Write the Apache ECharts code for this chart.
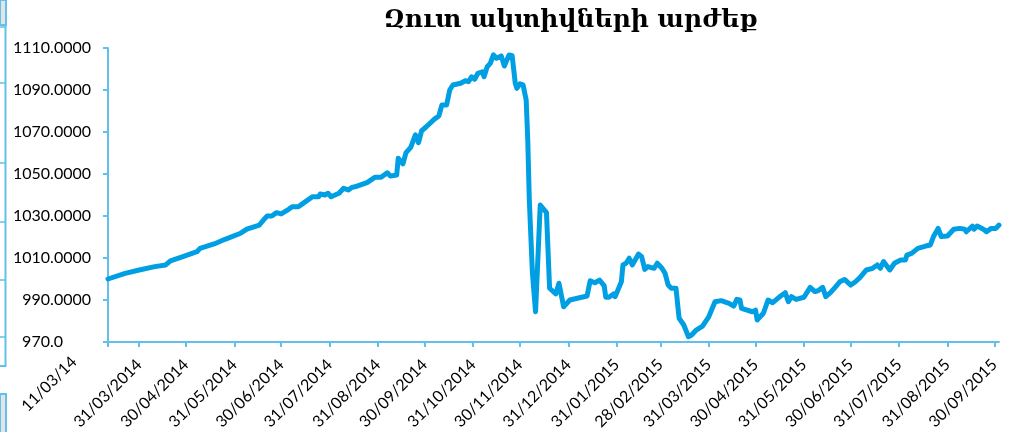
<!DOCTYPE html>
<html>
<head>
<meta charset="utf-8">
<script src="https://cdn.jsdelivr.net/npm/echarts@6/dist/echarts.min.js"></script>
<style>
  html, body { margin: 0; padding: 0; background: #fff; }
  #main { width: 1010px; height: 432px; }
</style>
</head>
<body>
<div id="main"></div>
<script>
// data
const titleText = 'Զուտ ակտիվների արժեք';
const startDate = '11/03/2014';
const endDate = '03/10/2015';
const yTicks = [970, 990, 1010, 1030, 1050, 1070, 1090, 1110];

const dates = [
	'11/03/2014','22/03/2014','31/03/2014','10/04/2014','17/04/2014','20/04/2014','28/04/2014',
	'07/05/2014','09/05/2014','18/05/2014','25/05/2014',
	'04/06/2014','08/06/2014','16/06/2014','19/06/2014','21/06/2014','24/06/2014','27/06/2014','30/06/2014',
	'05/07/2014','07/07/2014','11/07/2014','14/07/2014','20/07/2014','24/07/2014','25/07/2014','28/07/2014','30/07/2014',
	'01/08/2014','06/08/2014','09/08/2014','12/08/2014','14/08/2014','18/08/2014','24/08/2014','29/08/2014',
	'02/09/2014','06/09/2014','08/09/2014','12/09/2014','13/09/2014','16/09/2014','18/09/2014','21/09/2014','24/09/2014','26/09/2014','28/09/2014',
	'01/10/2014','06/10/2014','09/10/2014','11/10/2014','14/10/2014','16/10/2014','18/10/2014','23/10/2014','26/10/2014','28/10/2014','30/10/2014',
	'01/11/2014','03/11/2014','06/11/2014','07/11/2014','09/11/2014','11/11/2014','13/11/2014','15/11/2014','18/11/2014','20/11/2014','23/11/2014','25/11/2014','27/11/2014','28/11/2014','30/11/2014',
	'02/12/2014','04/12/2014','05/12/2014','06/12/2014','08/12/2014','10/12/2014','13/12/2014','17/12/2014','19/12/2014','23/12/2014','25/12/2014','28/12/2014',
	'01/01/2015','12/01/2015','14/01/2015','17/01/2015','20/01/2015','23/01/2015','24/01/2015','26/01/2015','29/01/2015','30/01/2015',
	'03/02/2015','04/02/2015','06/02/2015','08/02/2015','10/02/2015','14/02/2015','16/02/2015','18/02/2015','20/02/2015','24/02/2015','26/02/2015',
	'01/03/2015','03/03/2015','05/03/2015','07/03/2015','10/03/2015','12/03/2015','15/03/2015','18/03/2015','20/03/2015','23/03/2015','27/03/2015','31/03/2015',
	'04/04/2015','08/04/2015','13/04/2015','16/04/2015','18/04/2015','20/04/2015','21/04/2015','28/04/2015','30/04/2015',
	'01/05/2015','05/05/2015','08/05/2015','11/05/2015','15/05/2015','19/05/2015','21/05/2015','23/05/2015','26/05/2015','31/05/2015',
	'04/06/2015','07/06/2015','09/06/2015','12/06/2015','14/06/2015','17/06/2015','20/06/2015','23/06/2015','26/06/2015','30/06/2015',
	'03/07/2015','06/07/2015','10/07/2015','14/07/2015','17/07/2015','19/07/2015','21/07/2015','25/07/2015','28/07/2015',
	'01/08/2015','04/08/2015','05/08/2015','08/08/2015','12/08/2015','17/08/2015','20/08/2015','22/08/2015','25/08/2015','27/08/2015','31/08/2015',
	'04/09/2015','08/09/2015','11/09/2015','12/09/2015','16/09/2015','17/09/2015','19/09/2015','23/09/2015','25/09/2015','28/09/2015',
	'01/10/2015','03/10/2015'
];

const values = [
	1000.0,1002.7,1004.3,1005.9,1006.7,1008.6,1010.6,
	1013.0,1014.6,1016.7,1018.9,
	1021.8,1023.7,1025.7,1028.4,1030.0,1030.0,1031.6,1031.0,
	1033.3,1034.4,1034.4,1036.0,1039.2,1039.2,1040.5,1040.0,1040.8,
	1039.2,1040.8,1043.2,1042.4,1043.5,1044.3,1045.9,1048.4,
	1048.4,1050.6,1049.0,1049.5,1057.5,1054.8,1060.2,1062.7,1068.6,1064.9,1070.6,
	1072.5,1076.0,1077.6,1082.9,1082.9,1090.0,1092.4,1093.2,1094.4,1094.0,1096.3,
	1095.1,1097.9,1098.7,1096.3,1101.1,1102.7,1106.7,1105.1,1106.2,1101.4,1106.7,1106.3,1093.2,1090.8,1092.9,
	1092.4,1085.2,1066.2,1037.6,1002.7,984.4,1035.2,1031.6,995.6,992.9,998.0,986.8,
	990.0,991.9,999.2,998.2,999.5,996.7,991.3,991.3,992.9,991.6,
	998.7,1006.7,1007.5,1009.9,1006.7,1011.9,1010.6,1004.6,1005.9,1005.1,1007.5,
	1005.1,1002.7,997.1,995.6,995.6,981.3,978.1,972.5,973.3,975.7,977.6,982.0,
	989.2,989.7,988.4,987.1,990.3,990.0,986.0,984.4,985.2,
	980.5,983.7,990.0,988.7,991.3,993.5,989.2,991.6,990.3,991.3,
	996.0,994.0,994.4,996.0,991.6,993.5,996.0,998.7,999.8,997.1,
	998.7,1000.8,1004.3,1005.1,1006.7,1005.1,1008.3,1004.3,1007.5,
	1009.0,1009.0,1011.4,1012.2,1014.6,1015.7,1016.2,1020.2,1024.1,1020.2,1020.5,
	1023.7,1024.1,1023.7,1022.5,1025.2,1023.7,1025.2,1023.7,1022.5,1024.1,
	1024.1,1025.7
];

// daily category list between the two dates
function parseDMY(s) {
	let p = s.split('/');
	return Date.UTC(+p[2], +p[1] - 1, +p[0]);
}
function fmtDMY(t) {
	let d = new Date(t);
	let dd = String(d.getUTCDate()).padStart(2, '0');
	let mm = String(d.getUTCMonth() + 1).padStart(2, '0');
	return dd + '/' + mm + '/' + d.getUTCFullYear();
}
const DAY = 86400000;
let days = [];
for (let t = parseDMY(startDate); t <= parseDMY(endDate); t += DAY) {
	days.push(fmtDMY(t));
}
function isMonthEnd(label) {
	let t = parseDMY(label);
	return new Date(t).getUTCMonth() !== new Date(t + DAY).getUTCMonth();
}
function showTick(idx, label) {
	return idx === 0 || isMonthEnd(label);
}

const axisBlue = '#62C1EA';
const lineBlue = '#009FE3';

let myChart = echarts.init(document.getElementById('main'));

const option = {
	backgroundColor: '#fff',
	animation: false,
	title: {
		text: titleText,
		left: 379,
		top: 3,
		textStyle: {
			fontFamily: 'DejaVu Serif',
			fontSize: 25,
			fontWeight: 'bold',
			color: '#000'
		}
	},
	grid: {
		left: 108,
		right: 11,
		top: 48,
		bottom: 90,
		containLabel: false,
		outerBoundsMode: 'none'
	},
	xAxis: {
		type: 'category',
		data: days,
		boundaryGap: false,
		axisLine: { lineStyle: { color: axisBlue, width: 2 } },
		axisTick: {
			interval: showTick,
			length: 5,
			lineStyle: { color: axisBlue, width: 2 }
		},
		axisLabel: {
			interval: showTick,
			rotate: 45,
			margin: 20,
			fontFamily: 'Lato',
			fontSize: 16,
			color: '#000',
			formatter: function (val, idx) {
				if (idx === 0) return '{first|11/03/14}';
				return val;
			},
			rich: {
				first: {
					fontFamily: 'Lato',
					fontSize: 16,
					color: '#000',
					padding: [0, 22, 52, 0]
				}
			}
		},
		splitLine: { show: false }
	},
	yAxis: {
		type: 'value',
		min: 970,
		max: 1110,
		interval: 20,
		axisLine: { show: true, lineStyle: { color: axisBlue, width: 2 } },
		axisTick: { show: true, length: 5, lineStyle: { color: axisBlue, width: 2 } },
		axisLabel: {
			margin: 17,
			fontFamily: 'Lato',
			fontSize: 16,
			color: '#000',
			formatter: function (v) {
				if (v === yTicks[0]) return '{cut|970.0}';
				return v.toFixed(4);
			},
			rich: {
				cut: {
					fontFamily: 'Lato',
					fontSize: 16,
					color: '#000',
					padding: [0, 28, 0, 0]
				}
			}
		},
		splitLine: { show: false }
	},
	series: [
		{
			type: 'line',
			data: dates.map(function (d, i) { return [d, values[i]]; }),
			showSymbol: false,
			smooth: false,
			lineStyle: {
				color: lineBlue,
				width: 5,
				cap: 'round',
				join: 'round'
			}
		}
	],
	// bits of the spreadsheet frame visible on the left edge
	graphic: [
		{ type: 'rect', shape: { x: 0, y: 0, width: 6, height: 25 }, style: { fill: '#e4e4e4', stroke: axisBlue, lineWidth: 2 } },
		{ type: 'line', shape: { x1: 5.5, y1: 26, x2: 5.5, y2: 367 }, style: { stroke: axisBlue, lineWidth: 2 } },
		{ type: 'line', shape: { x1: 0, y1: 27, x2: 5, y2: 27 }, style: { stroke: axisBlue, lineWidth: 1.5 } },
		{ type: 'line', shape: { x1: 0, y1: 83, x2: 5, y2: 83 }, style: { stroke: axisBlue, lineWidth: 1.5 } },
		{ type: 'line', shape: { x1: 0, y1: 163, x2: 5, y2: 163 }, style: { stroke: axisBlue, lineWidth: 1.5 } },
		{ type: 'line', shape: { x1: 0, y1: 222, x2: 5, y2: 222 }, style: { stroke: axisBlue, lineWidth: 1.5 } },
		{ type: 'line', shape: { x1: 0, y1: 280, x2: 5, y2: 280 }, style: { stroke: axisBlue, lineWidth: 1.5 } },
		{ type: 'line', shape: { x1: 0, y1: 337, x2: 5, y2: 337 }, style: { stroke: axisBlue, lineWidth: 1.5 } },
		{ type: 'line', shape: { x1: 0, y1: 366, x2: 5, y2: 366 }, style: { stroke: axisBlue, lineWidth: 2 } },
		{ type: 'rect', shape: { x: 0, y: 394, width: 6, height: 40 }, style: { fill: '#e4e4e4', stroke: axisBlue, lineWidth: 2 } }
	]
};

myChart.setOption(option);
</script>
</body>
</html>
